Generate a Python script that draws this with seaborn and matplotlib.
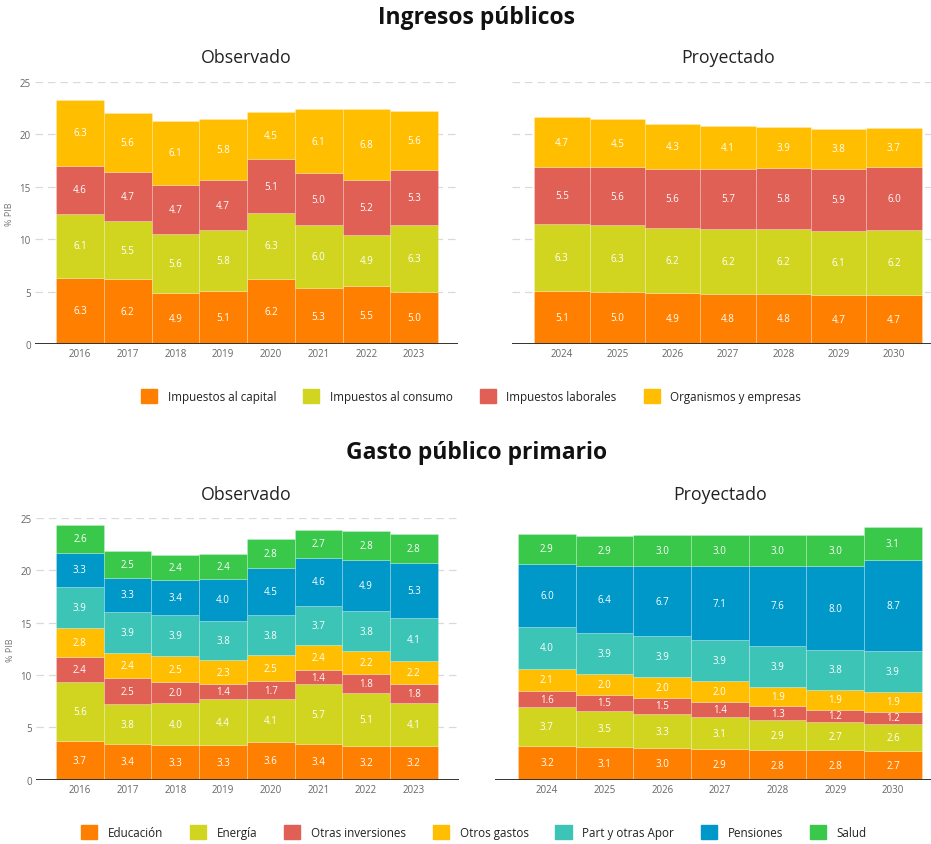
import numpy as np
import pandas as pd
import matplotlib
matplotlib.use("Agg")
import matplotlib.pyplot as plt
from matplotlib.patches import Patch
import seaborn as sns

sns.set_theme(style="white")
plt.rcParams["font.family"] = ["Open Sans", "DejaVu Sans"]

# ---- data ----
years_obs = ["2016", "2017", "2018", "2019", "2020", "2021", "2022", "2023"]
years_proj = ["2024", "2025", "2026", "2027", "2028", "2029", "2030"]

ing_labels = ["Impuestos al capital", "Impuestos al consumo",
              "Impuestos laborales", "Organismos y empresas"]
ing_obs = {
    "Impuestos al capital": [6.3, 6.2, 4.9, 5.1, 6.2, 5.3, 5.5, 5.0],
    "Impuestos al consumo": [6.1, 5.5, 5.6, 5.8, 6.3, 6.0, 4.9, 6.3],
    "Impuestos laborales": [4.6, 4.7, 4.7, 4.7, 5.1, 5.0, 5.2, 5.3],
    "Organismos y empresas": [6.3, 5.6, 6.1, 5.8, 4.5, 6.1, 6.8, 5.6],
}
ing_proj = {
    "Impuestos al capital": [5.1, 5.0, 4.9, 4.8, 4.8, 4.7, 4.7],
    "Impuestos al consumo": [6.3, 6.3, 6.2, 6.2, 6.2, 6.1, 6.2],
    "Impuestos laborales": [5.5, 5.6, 5.6, 5.7, 5.8, 5.9, 6.0],
    "Organismos y empresas": [4.7, 4.5, 4.3, 4.1, 3.9, 3.8, 3.7],
}

gas_labels = ["Educación", "Energía", "Otras inversiones", "Otros gastos",
              "Part y otras Apor", "Pensiones", "Salud"]
gas_obs = {
    "Educación": [3.7, 3.4, 3.3, 3.3, 3.6, 3.4, 3.2, 3.2],
    "Energía": [5.6, 3.8, 4.0, 4.4, 4.1, 5.7, 5.1, 4.1],
    "Otras inversiones": [2.4, 2.5, 2.0, 1.4, 1.7, 1.4, 1.8, 1.8],
    "Otros gastos": [2.8, 2.4, 2.5, 2.3, 2.5, 2.4, 2.2, 2.2],
    "Part y otras Apor": [3.9, 3.9, 3.9, 3.8, 3.8, 3.7, 3.8, 4.1],
    "Pensiones": [3.3, 3.3, 3.4, 4.0, 4.5, 4.6, 4.9, 5.3],
    "Salud": [2.6, 2.5, 2.4, 2.4, 2.8, 2.7, 2.8, 2.8],
}
gas_proj = {
    "Educación": [3.2, 3.1, 3.0, 2.9, 2.8, 2.8, 2.7],
    "Energía": [3.7, 3.5, 3.3, 3.1, 2.9, 2.7, 2.6],
    "Otras inversiones": [1.6, 1.5, 1.5, 1.4, 1.3, 1.2, 1.2],
    "Otros gastos": [2.1, 2.0, 2.0, 2.0, 1.9, 1.9, 1.9],
    "Part y otras Apor": [4.0, 3.9, 3.9, 3.9, 3.9, 3.8, 3.9],
    "Pensiones": [6.0, 6.4, 6.7, 7.1, 7.6, 8.0, 8.7],
    "Salud": [2.9, 2.9, 3.0, 3.0, 3.0, 3.0, 3.1],
}

ing_colors = ["#ff8000", "#d2d520", "#e06055", "#ffbe00"]
gas_colors = ["#ff8000", "#d2d520", "#e06055", "#ffbe00",
              "#3cc5b6", "#0098c8", "#39c84a"]

fig = plt.figure(figsize=(9.31, 8.45), dpi=100)


def stacked(ax, years, data, labels, colors, show_y, xlim, grid=True):
    base = np.zeros(len(years))
    for lab, col in zip(labels, colors):
        vals = np.array(data[lab])
        sns.barplot(x=years, y=vals, bottom=base, color=col, width=1.0,
                    saturation=1, errorbar=None, ax=ax,
                    edgecolor=(1, 1, 1, 0.25), linewidth=0.6, zorder=2)
        for i, v in enumerate(vals):
            ax.text(i, base[i] + v / 2, f"{v:.1f}", ha="center", va="center",
                    color="white", fontsize=7, zorder=3)
        base = base + vals
    ax.set_xlim(*xlim)
    ax.set_ylim(0, 25)
    ax.set_yticks([0, 5, 10, 15, 20, 25])
    if grid:
        for yv in [5, 10, 15, 20, 25]:
            ax.axhline(yv, color="#d9d9d9", lw=0.9, ls=(0, (6, 4)), zorder=1)
    ax.axhline(0, color="#333333", lw=1.4, zorder=4)
    for s in ax.spines.values():
        s.set_visible(False)
    ax.tick_params(axis="both", length=0, labelsize=7, colors="#666666", pad=3)
    if show_y:
        ax.set_ylabel("% PIB", fontsize=6.5, color="#777777", labelpad=4)
    else:
        ax.set_yticklabels([])
        ax.set_ylabel("")
    ax.set_xlabel("")


ax1 = fig.add_axes([0.0376, 0.5917, 0.4544, 0.3104])
ax2 = fig.add_axes([0.550, 0.5917, 0.450, 0.3104])
ax3 = fig.add_axes([0.0387, 0.0761, 0.4544, 0.3097])
ax4 = fig.add_axes([0.5317, 0.0761, 0.4683, 0.3097])

stacked(ax1, years_obs, ing_obs, ing_labels, ing_colors, True, (-0.94, 7.92))
stacked(ax2, years_proj, ing_proj, ing_labels, ing_colors, False, (-0.90, 6.67))
stacked(ax3, years_obs, gas_obs, gas_labels, gas_colors, True, (-0.92, 7.95))
stacked(ax4, years_proj, gas_proj, gas_labels, gas_colors, False, (-0.90, 6.66),
        grid=False)

fig.text(0.512, 0.979, "Ingresos públicos", ha="center", va="center",
         fontsize=16.5, fontweight="bold", color="#111111")
fig.text(0.512, 0.464, "Gasto público primario", ha="center", va="center",
         fontsize=16.5, fontweight="bold", color="#111111")
fig.text(0.265, 0.931, "Observado", ha="center", va="center", fontsize=12.8, color="#222222")
fig.text(0.782, 0.931, "Proyectado", ha="center", va="center", fontsize=12.8, color="#222222")
fig.text(0.265, 0.414, "Observado", ha="center", va="center", fontsize=12.8, color="#222222")
fig.text(0.773, 0.414, "Proyectado", ha="center", va="center", fontsize=12.8, color="#222222")

leg_kw = dict(loc="center", frameon=False, fontsize=8.4, handlelength=1.4,
              handleheight=1.4, handletextpad=0.9, columnspacing=2.3,
              labelcolor="#222222")
fig.legend(handles=[Patch(facecolor=c, edgecolor=c) for c in ing_colors],
           labels=ing_labels, ncol=4, bbox_to_anchor=(0.506, 0.530), **leg_kw)
fig.legend(handles=[Patch(facecolor=c, edgecolor=c) for c in gas_colors],
           labels=gas_labels, ncol=7, bbox_to_anchor=(0.509, 0.0142), **leg_kw)

fig.savefig("out.png", dpi=100)
